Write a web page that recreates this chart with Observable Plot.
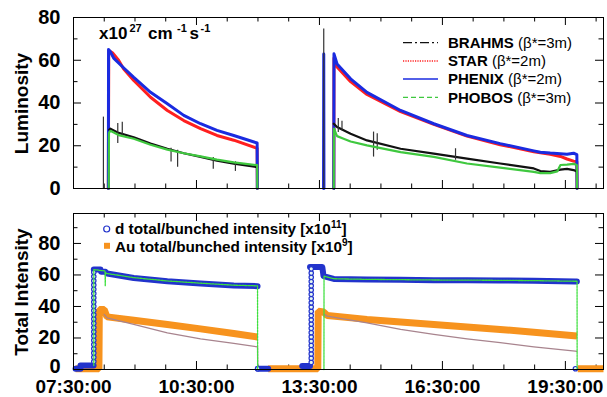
<!DOCTYPE html>
<html><head><meta charset="utf-8">
<script src="https://cdn.jsdelivr.net/npm/d3@7"></script>
<script src="https://cdn.jsdelivr.net/npm/@observablehq/plot@0.6"></script>
<style>
html,body{margin:0;padding:0;background:#fff;}
#wrap{position:relative;width:607px;height:397px;overflow:hidden;font-family:"Liberation Sans",Arial,Helvetica,sans-serif;}
#wrap > svg{position:absolute;left:0;}
g[aria-label^="x-axis"] text{font-size:19px;}
</style>
</head><body>
<div id="wrap"></div>
<script>
// ---------- axis ticks (time in decimal hours) ----------
const xTicks = [7.5, 10.5, 13.5, 16.5, 19.5];
const xTickLabels = ["07:30:00", "10:30:00", "13:30:00", "16:30:00", "19:30:00"];
const xMinor = [8.25, 9, 9.75, 11.25, 12, 12.75, 14.25, 15, 15.75, 17.25, 18, 18.75, 20.25];
const xDomain = [7.5, 20.43];
const lumTicks = [0, 20, 40, 60, 80];
const lumMinor = [10, 30, 50, 70];
const intTicks = [0, 20, 40, 60, 80];
const intMinor = [10, 30, 50, 70, 90];

// ---------- top panel: luminosity [x10^27 cm^-1 s^-1] ----------
const brahmsTime = [8.37, 8.40, 8.60, 8.97, 9.38, 9.79, 10.19, 10.60, 11.00, 11.41, 11.98, null,
  13.85, 13.93, 14.26, 14.66, 15.48, 16.29, 17.10, 17.91, 18.73, 18.89, 19.13, 19.38, 19.54, 19.70, 19.78];
const brahmsLum = [27.5, 28, 26, 24, 21, 18.6, 16.5, 14.8, 13, 11.6, 10, null,
  30.3, 28.8, 25.6, 22.5, 18.6, 16.3, 14, 11.7, 9.4, 8.2, 7.8, 8.8, 9.2, 8.6, 7.9];
// BRAHMS single-reading spikes: time, low, high
const brahmsSpikeTime = [8.23, 8.58, 8.69, 9.88, 10.04, 10.91, 11.45, 13.605, 13.96, 14.05, 14.82, 14.91, 16.82];
const brahmsSpikeLow  = [0, 21, 24, 12.4, 10, 9, 8, 0, 26.2, 27, 14.7, 17.9, 13.2];
const brahmsSpikeHigh = [33.4, 30.4, 31, 18.8, 17.9, 14.5, 12.5, 74.6, 32.7, 31.5, 26.4, 25.6, 18.6];

const starTime = [8.35, 8.36, 8.45, 8.60, 8.72, 8.97, 9.38, 9.79, 10.19, 10.60, 11.00, 11.41, 11.98, 11.985, null,
  13.85, 13.855, 13.93, 14.26, 14.66, 15.48, 16.29, 17.10, 17.91, 18.73, 19.13, 19.38, 19.54, 19.70, 19.78, 19.785];
const starLum = [0, 64.5, 63.5, 60, 56, 50.5, 42.7, 36.5, 31.8, 28, 24.8, 22.6, 18.8, 0, null,
  0, 61, 56.8, 50, 44, 36, 30, 24.5, 20.5, 17.2, 16, 15, 13.8, 12.8, 12.5, 0];

const phenixTime = [8.35, 8.355, 8.40, 8.48, 8.72, 8.97, 9.38, 9.79, 10.19, 10.60, 11.00, 11.41, 11.98, 11.985, null,
  13.60, 13.605, 13.61, null,
  13.85, 13.855, 13.93, 14.26, 14.66, 15.48, 16.29, 17.10, 17.91, 18.73, 18.89, 19.13, 19.38, 19.54, 19.70, 19.78, 19.785];
const phenixLum = [0, 65, 64, 61, 56.5, 52, 45, 39.6, 34.2, 30.3, 27.2, 24.8, 21.3, 0, null,
  0, 62.9, 0, null,
  0, 63, 58.3, 51.3, 45, 36.5, 30.3, 24.8, 21, 17.6, 17, 16.6, 16.3, 16, 16.5, 15.8, 0];

const phobosTime = [8.36, 8.365, 8.40, 8.60, 8.97, 9.38, 9.79, 10.19, 10.60, 11.00, 11.41, 11.98, 11.985, null,
  13.85, 13.855, 13.93, 14.09, 14.26, 14.66, 15.48, 16.29, 17.10, 17.91, 18.73, 18.89, 19.13, 19.30, 19.38, 19.54, 19.70, 19.78, 19.785];
const phobosLum = [0, 26, 27, 25, 23.3, 20.5, 18.2, 16.5, 15, 13.5, 12.2, 10.9, 0, null,
  0, 28, 24.5, 23.3, 22, 20.2, 17, 14.8, 11.7, 9.8, 7.8, 7.2, 7.2, 8, 11, 11.2, 11.5, 11, 0];

// ---------- bottom panel: total intensity ----------
// d total/bunched intensity [x10^11] (dense open circles)
const dTime = [7.55, 7.67, 7.67, 7.99, null,
  7.995, 8.16, 8.17, 8.28, 8.32, 8.97, 9.79, 10.60, 11.41, 11.99, null,
  11.995, 12.25, null, 13.08, 13.27, null,
  13.27, 13.57, 13.60, 13.85, 14.66, 15.48, 16.29, 17.10, 17.91, 18.73, 19.74, 19.78];
const dInt = [0.5, 0.5, 2.5, 2.5, null,
  63.4, 63.4, 62, 62, 60.9, 58.1, 56, 54.6, 53.3, 52.9, null,
  0.5, 0.5, null, 2.2, 2.2, null,
  65, 65, 59.2, 57.5, 57.1, 56.9, 56.7, 56.6, 56.5, 56.3, 55.8, 55.8];
// individually visible circles (injection ramps and after dumps)
const dDotTime = [7.995, 7.995, 7.995, 7.995, 7.995, 7.995, 7.995, 7.995, 7.995, 7.995, 7.995,
  7.995, 7.995, 7.995, 7.995, 7.995, 7.995, 7.995, 7.995, 7.995, 7.995, 7.995,
  13.30, 13.30, 13.30, 13.30, 13.30, 13.30, 13.30, 13.30, 13.30, 13.30, 13.30, 13.30,
  13.30, 13.30, 13.30, 13.30, 13.30, 13.30, 13.30, 13.30, 13.30, 13.30, 13.30,
  11.995, 19.745];
const dDotInt = [5, 7.7, 10.4, 13.1, 15.8, 18.5, 21.2, 23.9, 26.6, 29.3, 32,
  34.7, 37.4, 40.1, 42.8, 45.5, 48.2, 50.9, 53.6, 56.3, 59, 61.7,
  4.5, 7.2, 9.9, 12.6, 15.3, 18, 20.7, 23.4, 26.1, 28.8, 31.5, 34.2,
  36.9, 39.6, 42.3, 45, 47.7, 50.4, 53.1, 55.8, 58.5, 61.2, 63.9,
  0.5, 0.5];
// d bunched (thin green)
const dBunchTime = [7.995, 7.995, 8.27, 8.275, 8.28, 8.30, 8.97, 9.79, 10.60, 11.41, 11.99, 11.992, null,
  13.61, 13.612, 13.85, 14.66, 15.48, 16.29, 17.10, 17.91, 18.73, 19.74, 19.785, 19.787];
const dBunchInt = [2.5, 63.4, 62.5, 53, 61.5, 61, 58.3, 56.2, 54.8, 53.5, 53.1, 0, null,
  0, 59.2, 57.6, 57.2, 57, 56.8, 56.7, 56.6, 56.4, 56, 56, 0];
// Au total/bunched intensity [x10^9] (filled squares)
const auTime = [7.55, 8.12, 8.13, 8.25, 8.30, 8.32, 8.97, 9.79, 10.60, 11.41, 11.99, null,
  12.25, 13.46, 13.47, 13.60, 13.69, 14.66, 15.48, 16.29, 17.10, 17.91, 18.73, 19.785, null,
  19.80, 20.43];
const auInt = [0.5, 0.5, 38, 38, 34.5, 33.4, 31.3, 28.6, 25.8, 22.9, 20.6, null,
  0.5, 0.5, 37, 36.5, 34.3, 31.8, 30.2, 28.6, 27, 25.4, 23.7, 21.2, null,
  0.5, 0.5];
// Au bunched (thin mauve)
const auBunchTime = [8.25, 8.32, 8.97, 9.79, 10.60, 11.41, 11.99, 11.995, null,
  13.62, 13.69, 14.66, 15.48, 16.29, 17.10, 17.91, 18.73, 19.74, 19.78];
const auBunchInt = [35, 32.8, 28.6, 23.3, 19.5, 16.6, 14.4, 0, null,
  35, 33.9, 29.6, 25.4, 22.3, 19.5, 17, 14.4, 11.7, 11.5];

// ---------- helpers ----------
const rows = (T, V) => T.map((t, i) => ({t, v: V[i]}));
const BLUE = "#1a2be0", RED = "#ff1f1f", GREEN = "#3fc83f", BLACK = "#111";
const ORANGE = "#f7931e", MAUVE = "#a8848e", DBLUE = "#2233cc", LGREEN = "#3fe03f";
const font = "'Liberation Sans', Arial, Helvetica, sans-serif";
const W = 607, ML = 73, MR = 4;
const FW = W - ML - MR;

function tickMarks(fh, yMaj, yMin) {
  return [
    Plot.ruleY(yMaj, {stroke: "#000", insetRight: FW - 8}),
    Plot.ruleY(yMaj, {stroke: "#000", insetLeft: FW - 8}),
    Plot.ruleY(yMin, {stroke: "#000", insetRight: FW - 4.5}),
    Plot.ruleY(yMin, {stroke: "#000", insetLeft: FW - 4.5}),
    Plot.ruleX(xTicks, {stroke: "#000", insetTop: fh - 8}),
    Plot.ruleX(xTicks, {stroke: "#000", insetBottom: fh - 8}),
    Plot.ruleX(xMinor, {stroke: "#000", insetTop: fh - 4.5}),
    Plot.ruleX(xMinor, {stroke: "#000", insetBottom: fh - 4.5})
  ];
}

const styleBase = {fontFamily: font, fontSize: "20px", fontWeight: "bold", color: "#000", background: "transparent", overflow: "visible"};

// ---------- top plot ----------
const topH = 200, topMT = 17, topMB = 12;
const spikes = brahmsSpikeTime.map((t, i) => ({t, lo: brahmsSpikeLow[i], hi: brahmsSpikeHigh[i]}));
const topPlot = Plot.plot({
  width: W, height: topH, marginTop: topMT, marginBottom: topMB, marginLeft: ML, marginRight: MR,
  style: styleBase,
  x: {domain: xDomain, axis: null},
  y: {domain: [0, 80], ticks: lumTicks, tickSize: 0, tickPadding: 13, label: null},
  marks: [
    ...tickMarks(topH - topMT - topMB, lumTicks, lumMinor),
    Plot.line(rows(starTime, starLum), {x: "t", y: "v", stroke: RED, strokeWidth: 3}),
    Plot.line(rows(phenixTime, phenixLum), {x: "t", y: "v", stroke: BLUE, strokeWidth: 3}),
    Plot.line(rows(brahmsTime, brahmsLum), {x: "t", y: "v", stroke: BLACK, strokeWidth: 2.2}),
    Plot.ruleX(spikes, {x: "t", y1: "lo", y2: "hi", stroke: "#333", strokeWidth: 1.2}),
    Plot.line(rows(phobosTime, phobosLum), {x: "t", y: "v", stroke: GREEN, strokeWidth: 2.2}),
    Plot.frame({stroke: "#000"})
  ]
});

// ---------- bottom plot ----------
const botTop = 200, botH = 197, botMT = 13, botMB = 28;
const botPlot = Plot.plot({
  width: W, height: botH, marginTop: botMT, marginBottom: botMB, marginLeft: ML, marginRight: MR,
  style: styleBase,
  x: {domain: xDomain, ticks: xTicks, tickFormat: d => xTickLabels[xTicks.indexOf(d)], tickSize: 0, tickPadding: 10, label: null},
  y: {domain: [0, 99], axis: null},
  marks: [
    ...tickMarks(botH - botMT - botMB, intTicks, intMinor),
    // y tick labels (the "0" nudged up slightly so it clears the time labels)
    Plot.text(intTicks.filter(d => d > 0), {y: d => d, text: d => String(d), frameAnchor: "left", textAnchor: "end", dx: -13}),
    Plot.text(intTicks.filter(d => d === 0), {y: d => d, text: d => String(d), frameAnchor: "left", textAnchor: "end", dx: -13, dy: -2.5}),
    Plot.line(rows(auTime, auInt), {x: "t", y: "v", stroke: ORANGE, strokeWidth: 7, strokeLinejoin: "miter", strokeLinecap: "butt"}),
    Plot.line(rows(auBunchTime, auBunchInt), {x: "t", y: "v", stroke: MAUVE, strokeWidth: 1.3}),
    Plot.line(rows(dTime, dInt), {x: "t", y: "v", stroke: DBLUE, strokeWidth: 6, strokeLinecap: "round"}),
    Plot.dot(rows(dDotTime, dDotInt), {x: "t", y: "v", r: 2.2, stroke: DBLUE, strokeWidth: 1.2, fill: "#e4f6f0"}),
    Plot.line(rows(dBunchTime, dBunchInt), {x: "t", y: "v", stroke: LGREEN, strokeWidth: 1.3, strokeDasharray: "2,1"}),
    Plot.frame({stroke: "#000"})
  ]
});

const wrap = document.getElementById("wrap");
topPlot.style.top = "0px";
botPlot.style.top = botTop + "px";
wrap.appendChild(topPlot);
wrap.appendChild(botPlot);

// ---------- overlay: titles, unit label and legends ----------
const NS = "http://www.w3.org/2000/svg";
const ov = document.createElementNS(NS, "svg");
ov.setAttribute("width", W); ov.setAttribute("height", 397);
ov.style.top = "0px";
ov.style.fontFamily = font;
ov.innerHTML = `
<text transform="translate(27.5,103.5) rotate(-90)" text-anchor="middle" font-size="19" font-weight="bold">Luminosity</text>
<text transform="translate(27.5,292) rotate(-90)" text-anchor="middle" font-size="19" font-weight="bold">Total Intensity</text>
<text y="38.5" font-size="17" font-weight="bold"><tspan x="99">x10</tspan><tspan x="129.5" dy="-7" font-size="11">27</tspan><tspan x="148" dy="7">cm</tspan><tspan x="177" dy="-7" font-size="11">-1</tspan><tspan x="189.5" dy="7">s</tspan><tspan x="200.5" dy="-7" font-size="11">-1</tspan></text>
<line x1="403" x2="438" y1="42.7" y2="42.7" stroke="${BLACK}" stroke-width="1.3" stroke-dasharray="9,3,2,3"/>
<line x1="403" x2="438" y1="61" y2="61" stroke="${RED}" stroke-width="1.3" stroke-dasharray="1.2,1.2"/>
<line x1="403" x2="438" y1="79" y2="79" stroke="${BLUE}" stroke-width="1.3"/>
<line x1="403" x2="438" y1="97.3" y2="97.3" stroke="${GREEN}" stroke-width="1.3" stroke-dasharray="5,3"/>
<text x="448" y="48.3" font-size="15"><tspan font-weight="bold">BRAHMS</tspan> (β*=3m)</text>
<text x="448" y="66.3" font-size="15"><tspan font-weight="bold">STAR</tspan> (β*=2m)</text>
<text x="448" y="84.3" font-size="15"><tspan font-weight="bold">PHENIX</tspan> (β*=2m)</text>
<text x="448" y="102.6" font-size="15"><tspan font-weight="bold">PHOBOS</tspan> (β*=3m)</text>
<circle cx="106.7" cy="229" r="3" fill="none" stroke="${DBLUE}" stroke-width="1.2"/>
<rect x="104" y="242.8" width="6" height="6" fill="${ORANGE}"/>
<text y="233.5" font-size="15.3" font-weight="bold"><tspan x="115">d total/bunched intensity [x10</tspan><tspan dy="-6" font-size="10">11</tspan><tspan dy="6">]</tspan></text>
<text y="251.5" font-size="15.3" font-weight="bold"><tspan x="115">Au total/bunched intensity [x10</tspan><tspan dy="-6" font-size="10">9</tspan><tspan dy="6">]</tspan></text>
`;
wrap.appendChild(ov);
</script>
</body></html>
